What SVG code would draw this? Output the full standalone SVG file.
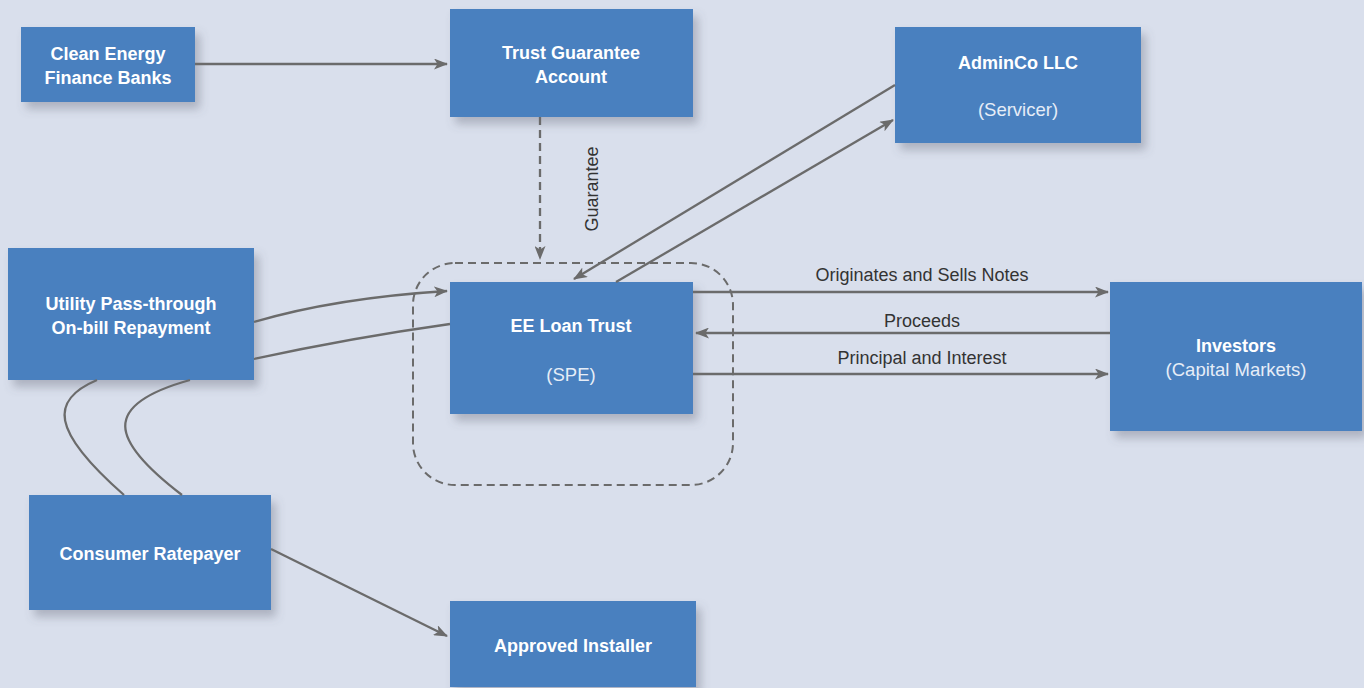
<svg xmlns="http://www.w3.org/2000/svg" width="1364" height="688" viewBox="0 0 1364 688">
<defs>
<filter id="sh" x="-20%" y="-20%" width="150%" height="160%">
<feDropShadow dx="5" dy="7" stdDeviation="5" flood-color="#5a6070" flood-opacity="0.35"/>
</filter>
<marker id="ah" viewBox="0 0 14 11" refX="13" refY="5.5" markerWidth="14" markerHeight="11" markerUnits="userSpaceOnUse" orient="auto">
<path d="M0,0 L14,5.5 L0,11 L3.5,5.5 Z" fill="#6b6b6b"/>
</marker>
<style>
.box{fill:#4880bf;filter:url(#sh)}
.t{font-family:"Liberation Sans",Arial,sans-serif;font-weight:bold;font-size:18px;fill:#ffffff;text-anchor:middle}
.s{font-family:"Liberation Sans",Arial,sans-serif;font-size:18.5px;fill:#e6edf7;text-anchor:middle}
.c{fill:none;stroke:#6b6b6b;stroke-width:2.3}
.l{font-family:"Liberation Sans",Arial,sans-serif;font-size:18px;fill:#333333;text-anchor:middle}
</style>
</defs>
<rect width="1364" height="688" fill="#d9dfec"/>

<g id="spe-boundary">
<rect x="413" y="263" width="320" height="222" rx="42" fill="none" stroke="#6b6b6b" stroke-width="2" stroke-dasharray="8,5"/>
</g>

<g id="node-banks"><rect class="box" x="21" y="27" width="174" height="75"/>
<text class="t" x="108" y="60">Clean Energy</text><text class="t" x="108" y="84">Finance Banks</text></g>

<g id="node-tga"><rect class="box" x="450" y="9" width="243" height="108"/>
<text class="t" x="571" y="59">Trust Guarantee</text><text class="t" x="571" y="83">Account</text></g>

<g id="node-adminco"><rect class="box" x="895" y="27" width="246" height="116"/>
<text class="t" x="1018" y="69">AdminCo LLC</text><text class="s" x="1018" y="116">(Servicer)</text></g>

<g id="node-utility"><rect class="box" x="8" y="248" width="246" height="132"/>
<text class="t" x="131" y="310">Utility Pass-through</text><text class="t" x="131" y="334">On-bill Repayment</text></g>

<g id="node-ee"><rect class="box" x="450" y="282" width="243" height="132"/>
<text class="t" x="571" y="332">EE Loan Trust</text><text class="s" x="571" y="381">(SPE)</text></g>

<g id="node-investors"><rect class="box" x="1110" y="282" width="252" height="149"/>
<text class="t" x="1236" y="352">Investors</text><text class="s" x="1236" y="376">(Capital Markets)</text></g>

<g id="node-consumer"><rect class="box" x="29" y="495" width="242" height="115"/>
<text class="t" x="150" y="560">Consumer Ratepayer</text></g>

<g id="node-installer"><rect class="box" x="450" y="601" width="246" height="86"/>
<text class="t" x="573" y="652">Approved Installer</text></g>

<g id="connectors">
<path class="c" d="M195,64 L447,64" marker-end="url(#ah)"/>
<path class="c" d="M540,117 L540,259" stroke-dasharray="8,5" marker-end="url(#ah)"/>
<path class="c" d="M895,85 L574,279" marker-end="url(#ah)"/>
<path class="c" d="M616,282 L893,120" marker-end="url(#ah)"/>
<path class="c" d="M254,322 Q335,298 447,291" marker-end="url(#ah)"/>
<path class="c" d="M450,324 Q350,338 254,359"/>
<path class="c" d="M97,380 C50,400 50,430 124,495"/>
<path class="c" d="M190,380 C100,405 110,440 182,495"/>
<path class="c" d="M271,549 L447,636" marker-end="url(#ah)"/>
<path class="c" d="M693,292 L1108,292" marker-end="url(#ah)"/>
<path class="c" d="M1110,333 L696,333" marker-end="url(#ah)"/>
<path class="c" d="M693,374 L1108,374" marker-end="url(#ah)"/>
<text class="l" x="922" y="281">Originates and Sells Notes</text>
<text class="l" x="922" y="327">Proceeds</text>
<text class="l" x="922" y="364">Principal and Interest</text>
<text class="l" transform="translate(598,189) rotate(-90)">Guarantee</text>
</g>
</svg>
